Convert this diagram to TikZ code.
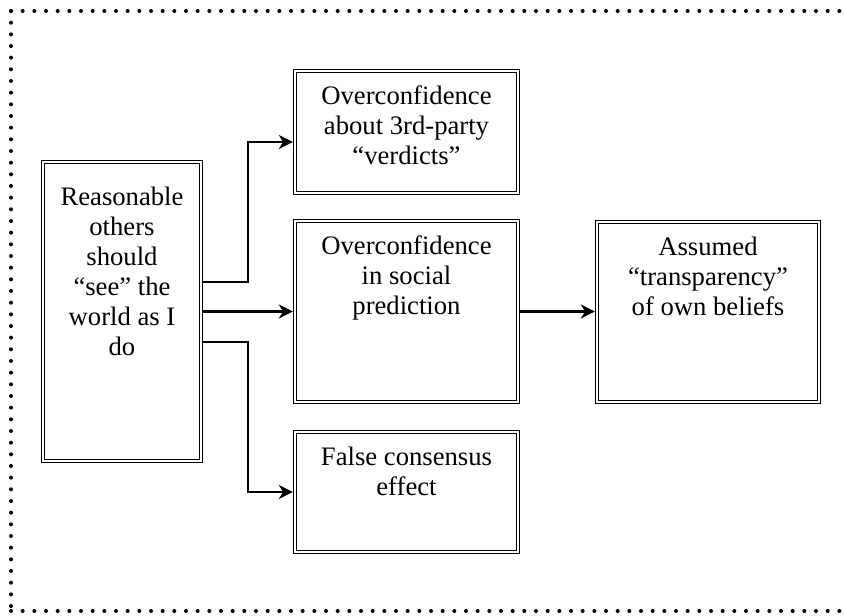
\documentclass[tikz,border=0pt]{standalone}
\usepackage{fontspec}
\setmainfont{Liberation Serif}
\usetikzlibrary{arrows.meta}
\begin{document}
\begin{tikzpicture}[x=0.75pt,y=-0.75pt,
  boxnode/.style={draw, double, line width=0.9pt, double distance=1.5pt, inner sep=0pt, outer sep=1.6pt, minimum width=#1},
  txt/.style={align=center, inner sep=0pt, anchor=base, font=\fontsize{20}{22.5}\selectfont},
  conn/.style={line width=2pt, -{Stealth[length=10.5pt,width=10.5pt,inset=3.2pt]}},
  dots/.style={line width=3pt, line cap=round, dash pattern=on 0pt off 8.75pt}]
\useasboundingbox (0,0) rectangle (844,616);
% dotted frame
\draw[dots] (11,11) -- (870,11);
\draw[dots] (11,11) -- (11,611);
\draw[dots] (11,611) -- (870,611);
% boxes
\node[boxnode=118.5pt, minimum height=224.3pt] (L) at (122,311.5) {};
\node[boxnode=167.3pt, minimum height=91.5pt] (T) at (406.5,132) {};
\node[boxnode=167.3pt, minimum height=135.8pt] (M) at (406.5,311.5) {};
\node[boxnode=167.3pt, minimum height=90pt] (B) at (406.5,492) {};
\node[boxnode=166.5pt, minimum height=135pt] (R) at (708,312) {};
% texts (base anchor = last line)
\node[txt] (Lt) at ([yshift=-147pt]L.north) {Reasonable\\others\\should\\“see” the\\world as I\\do};
\node[txt] (Tt) at ([yshift=-72pt]T.north) {Overconfidence\\about 3rd-party\\“verdicts”};
\node[txt] (Mt) at ([yshift=-72pt]M.north) {Overconfidence\\in social\\prediction};
\node[txt] (Bt) at ([yshift=-49.5pt]B.north) {False consensus\\effect};
\node[txt] (Rt) at ([yshift=-72pt]R.north) {Assumed\\“transparency”\\of own beliefs};
% connectors
\coordinate (j1) at (248,142);
\coordinate (j2) at (248,492);
\draw[conn] ([yshift=22.1pt]L.east) -| (j1) -- (j1 -| T.west);
\draw[conn] (L.east) -- (L.east -| M.west);
\draw[conn] ([yshift=-22.9pt]L.east) -| (j2) -- (j2 -| B.west);
\draw[conn] (M.east) -- (M.east -| R.west);
\end{tikzpicture}
\end{document}
